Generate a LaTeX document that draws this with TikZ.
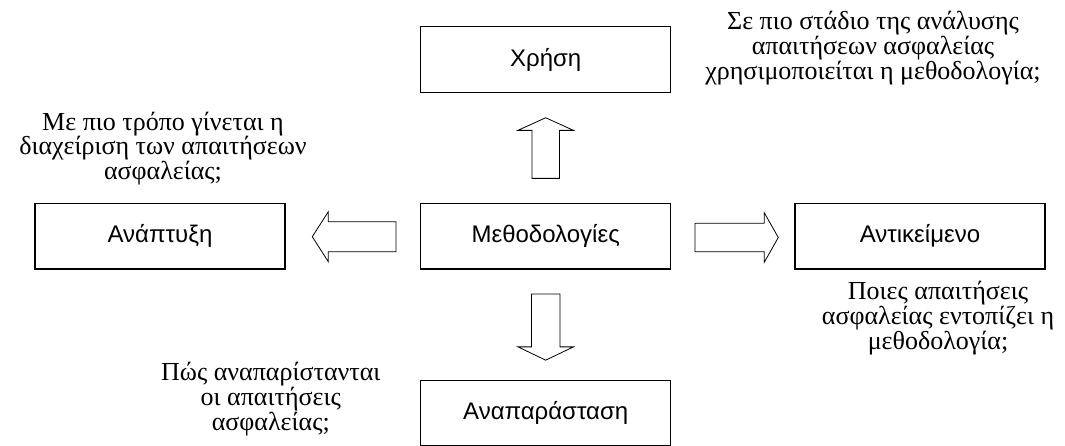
\documentclass[tikz,border=0pt]{standalone}
\usepackage{fontspec}
\setmainfont{Liberation Serif}
\newfontfamily\boxfont{Liberation Sans}
\usetikzlibrary{calc}

\tikzset{
  stagebox/.style={draw=black, line width=1.2pt, fill=white, inner sep=0pt, outer sep=0pt,
    minimum width=250pt, minimum height=65.7pt,
    font=\boxfont\fontsize{24}{28}\selectfont},
  question/.style={align=center, inner sep=0pt, font=\fontsize{26}{21.7}\selectfont},
  hollowarrow/.style={draw=black, line width=0.8pt, fill=white, line join=miter}
}

% hollow block arrow: #1 tail, #2 tip, #3 name, #4 half shaft, #5 half head, #6 head length
\newcommand\fatarrow[6]{%
  \coordinate (#3h) at ($(#2)!#6!(#1)$);
  \draw[hollowarrow] ($(#1)!#4!90:(#2)$) -- ($(#3h)!#4!90:(#2)$) -- ($(#3h)!#5!90:(#2)$)
    -- (#2) -- ($(#3h)!#5!-90:(#2)$) -- ($(#3h)!#4!-90:(#2)$) -- ($(#1)!#4!-90:(#2)$) -- cycle;}

\begin{document}
\begin{tikzpicture}[x=1pt, y=1pt]
  \clip (0,0) rectangle (1065,-445);
  \fill[white] (0,0) rectangle (1065,-445);

  % stages
  \node[stagebox] (use)  at (545.7,-59.5)  {Χρήση};
  \node[stagebox] (dev)  at (160,-236.2)   {Ανάπτυξη};
  \node[stagebox] (meth) at (545.7,-236.2) {Μεθοδολογίες};
  \node[stagebox] (obj)  at (920,-236.2)   {Αντικείμενο};
  \node[stagebox] (rep)  at (545.7,-413)   {Αναπαράσταση};

  % arrow end points
  \coordinate (upTail) at ($(meth.north)+(0,25)$);
  \coordinate (upTip)  at ($(use.south)+(0,-25.4)$);
  \coordinate (ltTail) at ($(meth.west)+(-24.7,-0.5)$);
  \coordinate (ltTip)  at ($(dev.east)+(27.3,-0.5)$);
  \coordinate (rtTail) at ($(meth.east)+(24.3,-1.3)$);
  \coordinate (rtTip)  at ($(obj.west)+(-16.7,-1.3)$);
  \coordinate (dnTail) at ($(meth.south)+(0,-25)$);
  \coordinate (dnTip)  at ($(rep.north)+(0,20)$);

  \fatarrow{upTail}{upTip}{up}{13.8pt}{27.8pt}{12.6pt}
  \fatarrow{ltTail}{ltTip}{lt}{15pt}{25pt}{16pt}
  \fatarrow{rtTail}{rtTip}{rt}{14.2pt}{24.7pt}{14pt}
  \fatarrow{dnTail}{dnTip}{dn}{14.2pt}{27.8pt}{13.3pt}

  % questions
  \node[question] (qUse) at (873,-48)
    {Σε πιο στάδιο της ανάλυσης\\απαιτήσεων ασφαλείας\\χρησιμοποιείται η μεθοδολογία;};
  \node[question] (qDev) at (163,-148.5)
    {Με πιο τρόπο γίνεται η\\διαχείριση των απαιτήσεων\\ασφαλείας;};
  \node[question] (qObj) at (938,-318)
    {Ποιες απαιτήσεις\\ασφαλείας εντοπίζει η\\μεθοδολογία;};
  \node[question] (qRep) at (270.8,-399)
    {Πώς αναπαρίστανται\\οι απαιτήσεις\\ασφαλείας;};
\end{tikzpicture}
\end{document}
